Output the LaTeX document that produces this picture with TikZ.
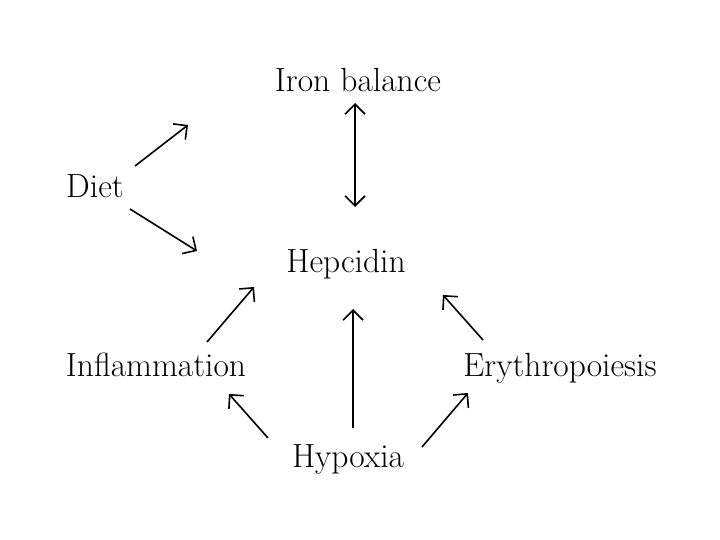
\documentclass[tikz,border=0pt]{standalone}
\usetikzlibrary{arrows.meta}
\begin{document}
\begin{tikzpicture}[x=1pt,y=-1pt,
  lbl/.style={anchor=base,inner sep=0pt,font=\fontsize{33.5}{40}\selectfont},
  tip/.style={Straight Barb[length=10pt,width=20pt,line width=1.6pt]},
  arr/.style={line width=1.6pt,-{Straight Barb[length=10pt,width=20pt,line width=1.6pt]}},
  darr/.style={line width=1.6pt,{Straight Barb[length=10pt,width=20pt,line width=1.6pt]}-{Straight Barb[length=10pt,width=20pt,line width=1.6pt]}}]
\useasboundingbox (0,0) rectangle (720,540);
\node[lbl] (iron) at (358,92) {Iron balance};
\node[lbl] (diet) at (95,197) {Diet};
\node[lbl] (hep) at (346,272) {Hepcidin};
\node[lbl] (infl) at (156,376) {Inflammation};
\node[lbl] (ery) at (560,376) {Erythropoiesis};
\node[lbl] (hyp) at (348,467) {Hypoxia};
% connector end points
\coordinate (ironS) at (355,103);
\coordinate (hepN) at (355,207);
\coordinate (dietU) at (135,166);
\coordinate (dietUend) at (188,125);
\coordinate (dietD) at (130,209);
\coordinate (hepW) at (197,251);
\coordinate (inflNE) at (207,342);
\coordinate (hepSW) at (254,287);
\coordinate (hypN) at (353,428);
\coordinate (hepS) at (353,309);
\coordinate (hypNW) at (268,438);
\coordinate (inflSE) at (229,394);
\coordinate (eryNW) at (483,340);
\coordinate (hepSE) at (443,295);
\coordinate (hypNE) at (422,447);
\coordinate (erySW) at (468,393);
\draw[darr] (ironS) -- (hepN);
\draw[arr] (dietU) -- (dietUend);
\draw[arr] (dietD) -- (hepW);
\draw[arr] (inflNE) -- (hepSW);
\draw[arr] (hypN) -- (hepS);
\draw[arr] (hypNW) -- (inflSE);
\draw[arr] (eryNW) -- (hepSE);
\draw[arr] (hypNE) -- (erySW);
\end{tikzpicture}
\end{document}
